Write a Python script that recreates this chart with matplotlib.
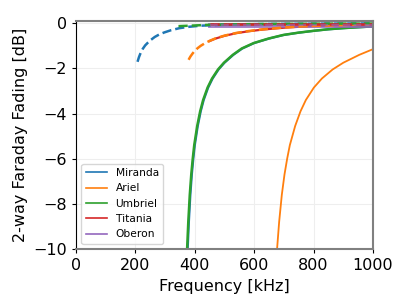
import matplotlib.pyplot as plt

# solid curves
miranda_f = [372, 376, 380, 385, 390, 395, 400, 410, 420, 430, 445, 460, 480, 500, 530, 560, 600, 650, 700, 750, 800, 850, 900, 950, 1000]
miranda_db = [-12.0, -10.0, -8.8, -7.6, -6.7, -6.0, -5.4, -4.55, -3.9, -3.4, -2.85, -2.45, -2.05, -1.75, -1.4, -1.12, -0.88, -0.68, -0.52, -0.42, -0.34, -0.27, -0.22, -0.18, -0.15]

umbriel_f = [370, 374, 378, 383, 388, 393, 398, 408, 418, 428, 443, 458, 478, 498, 528, 558, 598, 648, 698, 748, 798, 848, 898, 948, 1000]
umbriel_db = [-12.0, -10.0, -8.8, -7.6, -6.7, -6.0, -5.4, -4.55, -3.9, -3.4, -2.85, -2.45, -2.05, -1.75, -1.4, -1.12, -0.88, -0.68, -0.52, -0.42, -0.34, -0.27, -0.22, -0.18, -0.14]

ariel_f = [670, 677, 684, 693, 702, 711, 720, 738, 756, 774, 801, 828, 864, 900, 954, 1000]
ariel_db = [-12.0, -10.0, -8.8, -7.6, -6.7, -6.0, -5.4, -4.55, -3.9, -3.4, -2.85, -2.45, -2.05, -1.75, -1.4, -1.15]

titania_f = [450, 470, 500, 540, 580, 630, 700, 750, 800, 900, 1000]
titania_db = [-0.79, -0.68, -0.56, -0.44, -0.36, -0.28, -0.2, -0.16, -0.13, -0.09, -0.06]

oberon_f = [450, 600, 800, 1000]
oberon_db = [-0.07, -0.07, -0.07, -0.07]

# dashed curves
miranda2_f = [207, 212, 218, 225, 233, 242, 252, 265, 280, 297, 320, 348, 380, 420, 470, 550, 650, 800, 1000]
miranda2_db = [-1.71, -1.5, -1.3, -1.13, -0.98, -0.86, -0.74, -0.61, -0.5, -0.41, -0.31, -0.22, -0.16, -0.11, -0.08, -0.05, -0.03, -0.02, -0.01]

ariel2_f = [379, 385, 392, 400, 410, 420, 435, 450, 470, 500, 540, 580, 630, 700, 750, 800, 900, 1000]
ariel2_db = [-1.62, -1.48, -1.35, -1.22, -1.1, -1.0, -0.88, -0.78, -0.67, -0.55, -0.43, -0.35, -0.27, -0.19, -0.15, -0.12, -0.08, -0.05]

umbriel2_f = [345, 400, 450, 600, 800, 1000]
umbriel2_db = [-0.13, -0.1, -0.07, -0.04, -0.02, -0.015]

titania2_f = [450, 600, 800, 1000]
titania2_db = [-0.02, -0.02, -0.02, -0.02]

oberon2_f = [450, 600, 800, 1000]
oberon2_db = [-0.08, -0.08, -0.08, -0.08]

fig = plt.figure(figsize=(4.11, 3.08), dpi=100)
ax = fig.add_axes([0.185, 0.1916, 0.7225, 0.7404])

ax.plot(miranda_f, miranda_db, c="tab:blue", lw=1.6, label="Miranda")
ax.plot(ariel_f, ariel_db, c="tab:orange", lw=1.3, label="Ariel")
ax.plot(umbriel_f, umbriel_db, c="tab:green", lw=1.8, label="Umbriel")
ax.plot(titania_f, titania_db, c="tab:red", lw=1.6, label="Titania")
ax.plot(oberon_f, oberon_db, c="tab:purple", lw=3.5, alpha=0.85, label="Oberon")

ax.plot(miranda2_f, miranda2_db, c="tab:blue", lw=1.8, ls="--")
ax.plot(ariel2_f, ariel2_db, c="tab:orange", lw=1.8, ls="--")
ax.plot(umbriel2_f, umbriel2_db, c="tab:green", lw=1.8, ls="--")
ax.plot(titania2_f, titania2_db, c="tab:red", lw=1.8, ls="--")
ax.plot(oberon2_f, oberon2_db, c="tab:purple", lw=1.5, ls="--", alpha=0.6)

ax.set_xlim(0, 1000)
ax.set_ylim(-10, 0.1)
ax.set_xticks([0, 200, 400, 600, 800, 1000])
ax.set_yticks([0, -2, -4, -6, -8, -10])
ax.grid(True, color="#eeeeee", lw=0.8)
ax.tick_params(labelsize=11.5, length=3, width=0.8)
ax.set_xlabel("Frequency [kHz]", fontsize=11.5)
ax.set_ylabel("2-way Faraday Fading [dB]", fontsize=11.5)

for s in ["top", "right", "bottom"]:
    ax.spines[s].set_color("#808080")
    ax.spines[s].set_linewidth(1.5)
ax.spines["left"].set_color("black")
ax.spines["left"].set_linewidth(0.8)

leg = ax.legend(loc="lower left", fontsize=7.7)
for l in leg.get_lines():
    l.set_linewidth(1.2)
    l.set_alpha(1)

fig.savefig("out.png", dpi=100)
